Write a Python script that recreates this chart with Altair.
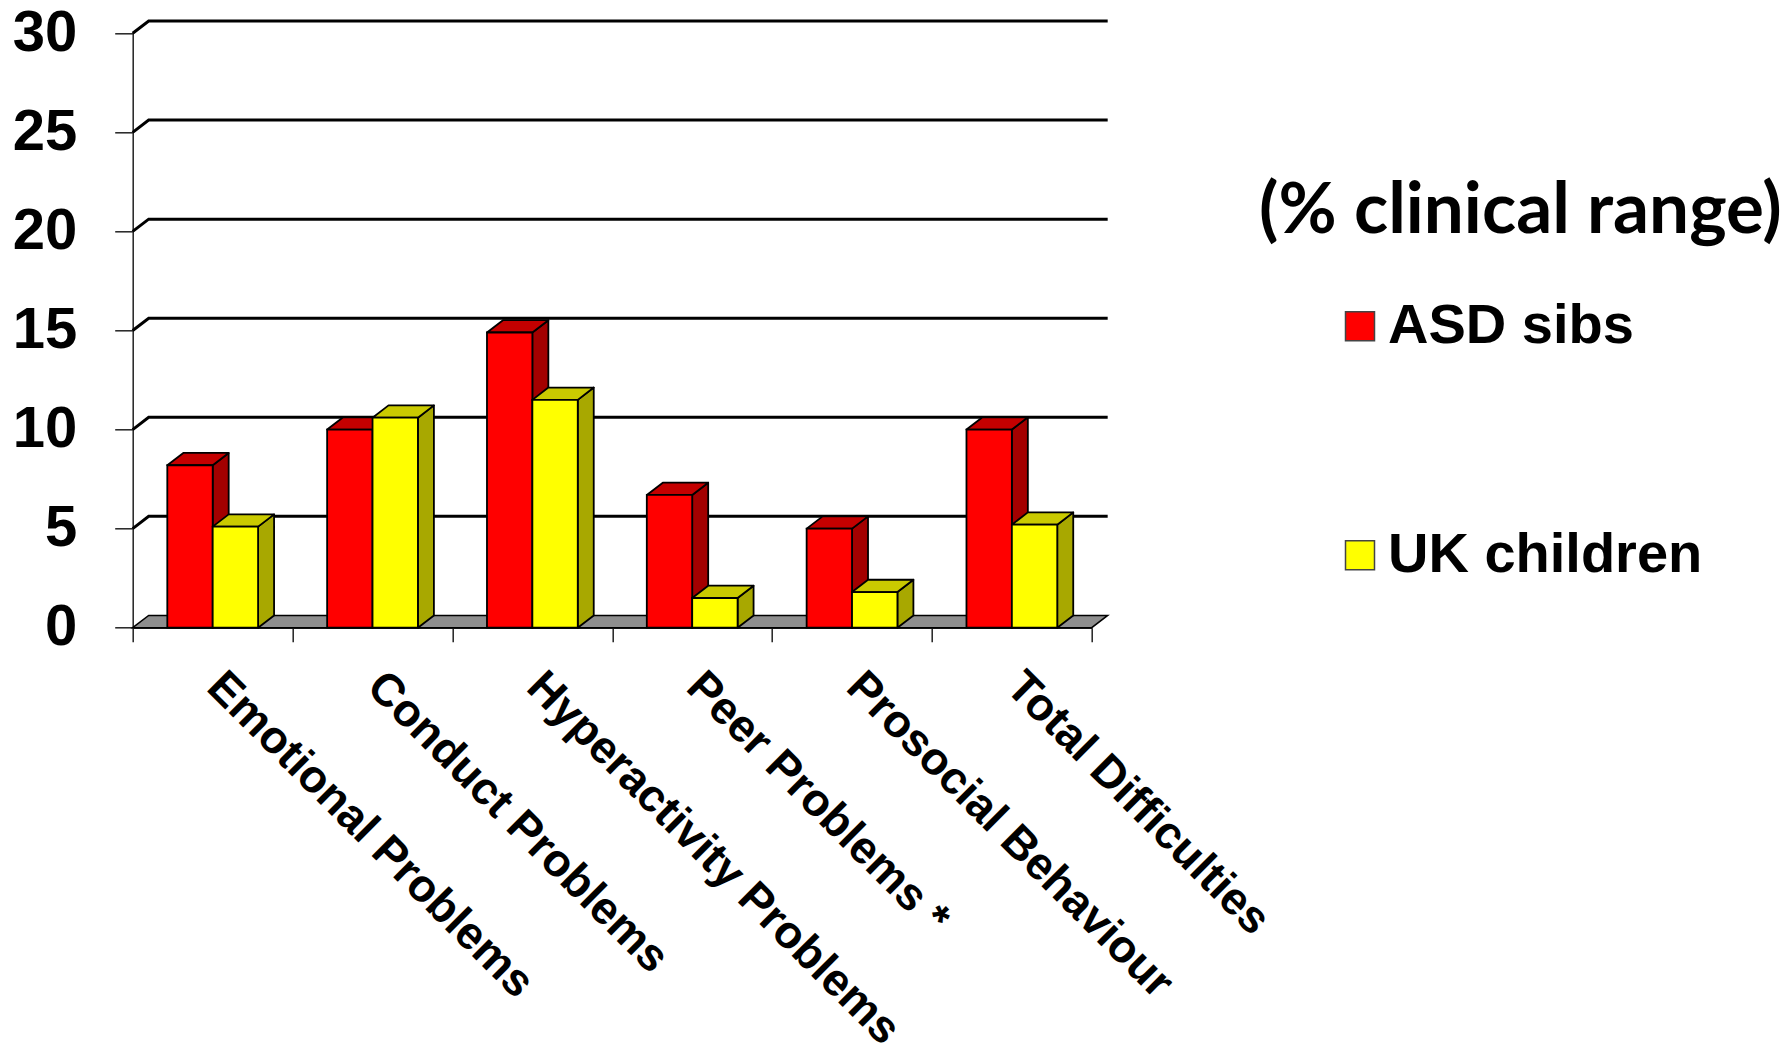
import json
import altair as alt
import pandas as pd

# SDQ subscales: share of children scoring in the clinical range (%)
categories = [
    "Emotional Problems",
    "Conduct Problems",
    "Hyperactivity Problems",
    "Peer Problems *",
    "Prosocial Behaviour",
    "Total Difficulties",
]
series = ["ASD sibs", "UK children"]
asd_sibs = [8.2, 10.0, 14.9, 6.7, 5.0, 10.0]
uk_children = [5.1, 10.6, 11.5, 1.5, 1.8, 5.2]
y_ticks = [0, 5, 10, 15, 20, 25, 30]

# styling / pseudo-3D geometry (x in category units, y in percent units)
FRONT = {"ASD sibs": "#FF0000", "UK children": "#FFFF00"}
SIDE = {"ASD sibs": "#A30000", "UK children": "#A8A800"}
TOP = {"ASD sibs": "#C40000", "UK children": "#CACA00"}
DEPTH_X = 0.10
DEPTH_Y = 0.62
GAP = 0.2165
BAR_W = 0.284
N = len(categories)
Y_MAX = 30

X_SCALE = alt.Scale(domain=[0, N], nice=False, zero=False)
Y_SCALE = alt.Scale(domain=[0, Y_MAX], nice=False, zero=False)

# front faces, plus the side and top faces of every box
front_rows = []
face_rows = []
for s_idx, (name, vals) in enumerate(zip(series, [asd_sibs, uk_children])):
    for i, v in enumerate(vals):
        left = i + GAP + s_idx * BAR_W
        right = left + BAR_W
        front_rows.append({"series": name, "x": left, "x2": right, "v": v,
                           "layer": s_idx})
        side_id = f"{name}-{i}-side"
        for x, y, y2 in [(right, v, 0.0), (right + DEPTH_X, v + DEPTH_Y, DEPTH_Y)]:
            face_rows.append({"face": side_id, "x": x, "y": y, "y2": y2,
                              "fill": SIDE[name], "layer": s_idx})
        top_id = f"{name}-{i}-top"
        for x, y, y2 in [
            (left, v, v),
            (left + DEPTH_X, v + DEPTH_Y, v),
            (right, v + DEPTH_Y, v),
            (right + DEPTH_X, v + DEPTH_Y, v + DEPTH_Y),
        ]:
            face_rows.append({"face": top_id, "x": x, "y": y, "y2": y2,
                              "fill": TOP[name], "layer": s_idx})

front_df = pd.DataFrame(front_rows)
faces_df = pd.DataFrame(face_rows)

# floor of the box
floor_df = pd.DataFrame({
    "x": [0, DEPTH_X, N, N + DEPTH_X],
    "y": [0, DEPTH_Y, DEPTH_Y, DEPTH_Y],
    "y2": [0, 0, 0, DEPTH_Y],
})

# gridlines on the back wall, joined to the front axis ticks
grid_rows = []
for k in y_ticks[1:]:
    for j, (x, y) in enumerate([(0, k), (DEPTH_X, k + DEPTH_Y), (N + DEPTH_X, k + DEPTH_Y)]):
        grid_rows.append({"level": k, "x": x, "y": y, "j": j})
grid_df = pd.DataFrame(grid_rows)

x_tick_values = [i / 2 for i in range(2 * N + 1)]
label_expr = (
    "datum.value % 1 === 0 ? '' : "
    + json.dumps(categories)
    + "[floor(datum.value)]"
)

floor = alt.Chart(floor_df).mark_area(
    color="#8E8E8E", stroke="#000000", strokeWidth=1.5, opacity=1
).encode(
    x=alt.X(
        "x:Q",
        scale=X_SCALE,
        axis=alt.Axis(
            values=x_tick_values,
            title=None,
            grid=False,
            domainColor="#222222",
            domainWidth=1.5,
            tickColor="#222222",
            tickWidth=1.5,
            tickSize=14,
            tickOpacity={"condition": {"test": "datum.value % 1 === 0", "value": 1}, "value": 0},
            labelExpr=label_expr,
            labelOverlap=False,
            labelBound=False,
            labelFlush=False,
            labelAngle=45,
            labelAlign="left",
            labelBaseline="alphabetic",
            labelPadding=47,
            labelOffset=-8,
            labelFont="Liberation Sans",
            labelFontWeight="bold",
            labelFontSize=45.5,
            labelColor="#000000",
            labelLimit=0,
        ),
    ),
    y=alt.Y(
        "y:Q",
        scale=Y_SCALE,
        stack=None,
        axis=alt.Axis(
            values=y_ticks,
            title=None,
            grid=False,
            domainColor="#222222",
            domainWidth=1.5,
            tickColor="#222222",
            tickWidth=1.5,
            tickSize=18,
            labelPadding=38,
            labelFont="Liberation Sans",
            labelFontWeight="bold",
            labelFontSize=58,
            labelColor="#000000",
        ),
    ),
    y2="y2:Q",
)

grid = alt.Chart(grid_df).mark_line(color="#000000", strokeWidth=3).encode(
    x=alt.X("x:Q", scale=X_SCALE),
    y=alt.Y("y:Q", scale=Y_SCALE),
    detail="level:N",
    order="j:Q",
)


def face_layer(idx):
    return alt.Chart(faces_df[faces_df["layer"] == idx]).mark_area(
        stroke="#000000", strokeWidth=1.8, opacity=1, strokeJoin="round"
    ).encode(
        x=alt.X("x:Q", scale=X_SCALE),
        y=alt.Y("y:Q", scale=Y_SCALE, stack=None),
        y2="y2:Q",
        fill=alt.Fill("fill:N", scale=None),
        detail="face:N",
    )


def front_layer(idx):
    return alt.Chart(front_df[front_df["layer"] == idx]).mark_rect(
        stroke="#000000", strokeWidth=1.8
    ).encode(
        x=alt.X("x:Q", scale=X_SCALE),
        x2="x2:Q",
        y=alt.Y("v:Q", scale=Y_SCALE),
        y2=alt.Y2(datum=0),
        color=alt.Color(
            "series:N",
            scale=alt.Scale(domain=series, range=[FRONT[s] for s in series]),
            legend=alt.Legend(
                title="(% clinical range)",
                orient="none",
                legendX=1126.3,
                legendY=144,
                titleFont="Lato",
                titleFontWeight="bold",
                titleFontSize=71,
                titleColor="#000000",
                titleAnchor="start",
                titleLimit=0,
                titlePadding=50,
                labelFont="Liberation Sans",
                labelFontWeight="bold",
                labelFontSize=56,
                labelColor="#000000",
                labelLimit=0,
                labelOffset=0,
                symbolOffset=73,
                symbolType="square",
                symbolSize=841,
                symbolStrokeColor="#444444",
                symbolStrokeWidth=1.5,
                symbolOpacity=1,
                rowPadding=173,
            ),
        ),
    )


chart = alt.layer(
    floor,
    grid,
    face_layer(0),
    front_layer(0),
    face_layer(1),
    front_layer(1),
).properties(
    width=959,
    height=594.4,
    padding={"left": 132.7, "top": 33.3, "right": 699.3, "bottom": 418.3},
    autosize=alt.AutoSizeParams(type="none"),
    background="#FFFFFF",
).configure_view(stroke=None)

chart.save("out.html", embed_options={"renderer": "svg", "actions": False})
